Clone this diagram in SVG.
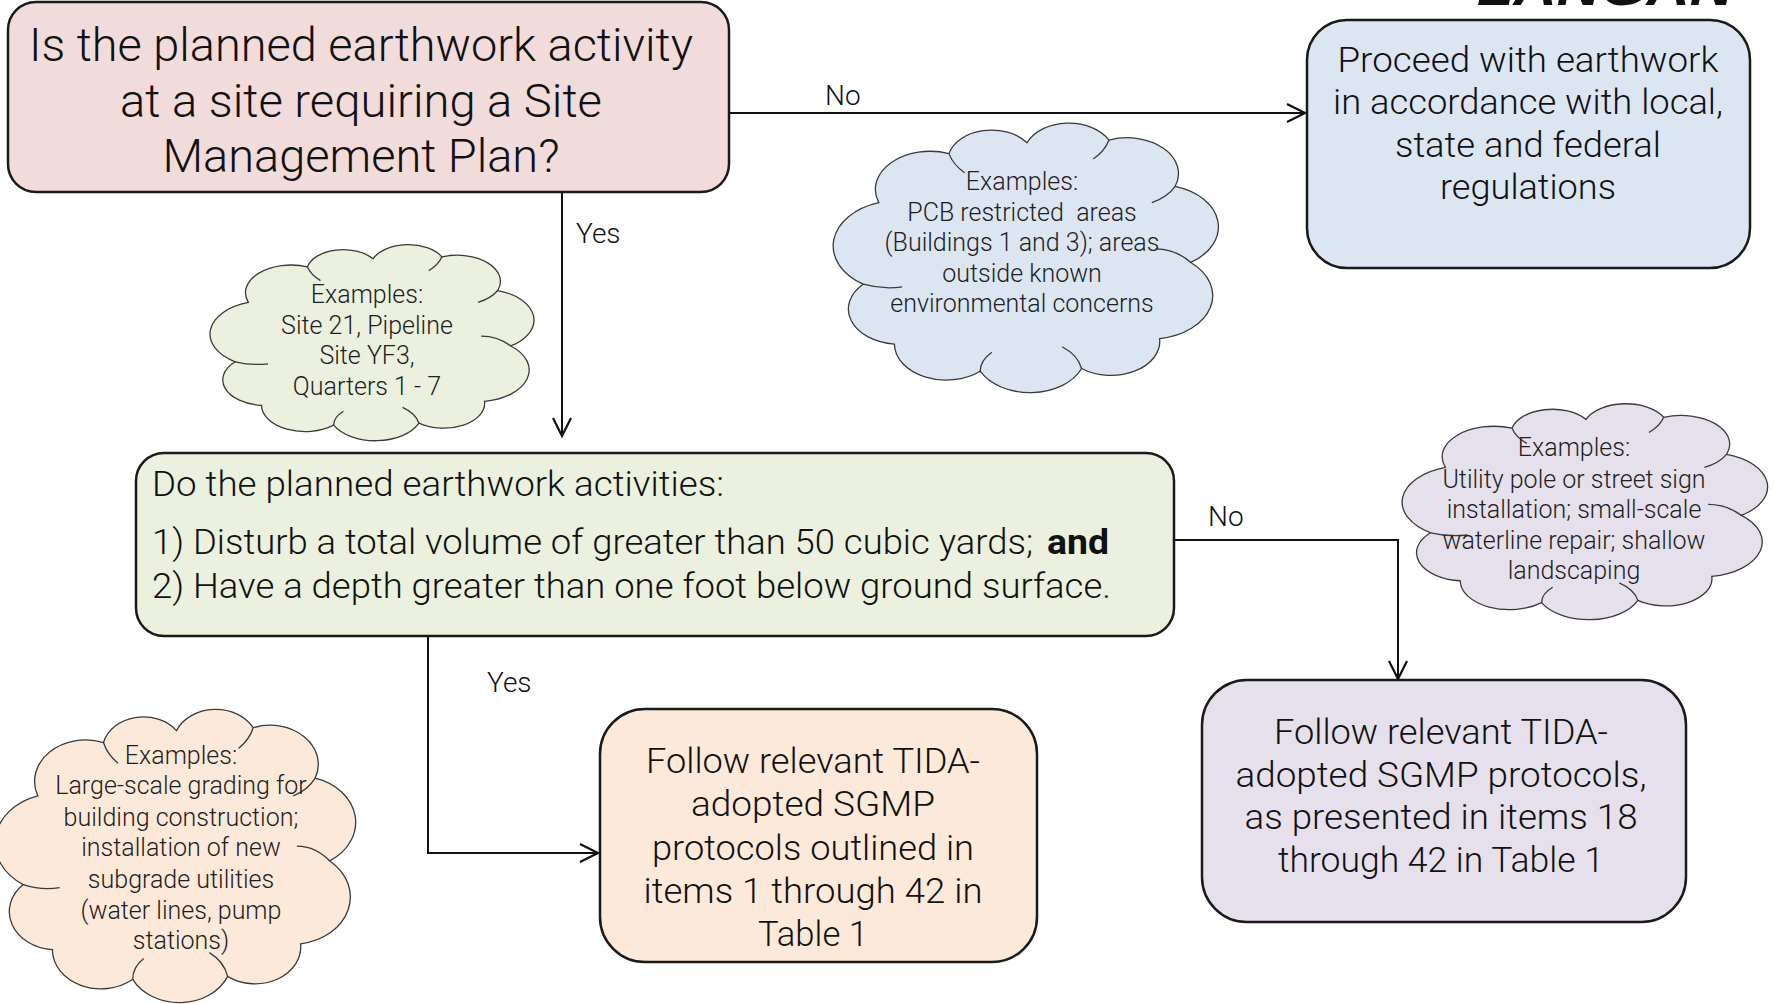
<svg xmlns="http://www.w3.org/2000/svg" xmlns:xlink="http://www.w3.org/1999/xlink" width="1774" height="1004" viewBox="0 0 1774 1004">
<style>
.box{stroke:#1a1a1a;stroke-width:2.5}
.bt{font-family:Roboto,"Liberation Sans",sans-serif;font-weight:300;fill:#111;font-size:46px}
.mt{font-family:Roboto,"Liberation Sans",sans-serif;font-weight:300;fill:#111;font-size:35px}
.bold{font-weight:700}
.ct{font-family:Roboto,"Liberation Sans",sans-serif;font-weight:300;fill:#1e1e1e;font-size:25px;text-anchor:middle}
.lbl{font-family:Roboto,"Liberation Sans",sans-serif;font-weight:300;fill:#111;font-size:28px}
.cl{stroke:#3a3a3a;stroke-width:1.3}
.conn{fill:none;stroke:#111;stroke-width:2}
</style>
<defs>
<marker id="arr" markerUnits="userSpaceOnUse" markerWidth="24" markerHeight="24" refX="18" refY="9" orient="auto" viewBox="-2 -2 24 22">
<path d="M0,0 L18,9 L0,18" fill="none" stroke="#111" stroke-width="2.2"/>
</marker>
<g id="cloud">
<path vector-effect="non-scaling-stroke" d="M 8 60 A 16.7 16.7 0 0 1 12 30 A 14 14 0 0 1 30 12 A 11.2 11.2 0 0 1 50 8 A 11.6 11.6 0 0 1 71 7 A 13.2 13.2 0 0 1 88 24 A 15.6 15.6 0 0 1 92 52 A 16 16 0 0 1 84 80 A 12.5 12.5 0 0 1 64 91 A 14.3 14.3 0 0 1 38 92 A 13.3 13.3 0 0 1 16 82 A 12.9 12.9 0 0 1 8 60 Z"/>
<path vector-effect="non-scaling-stroke" fill="none" d="M 8 60 Q 13 62 18 61 M 30 12 Q 31 16 34 19 M 71 7 Q 70 11 67 14 M 88 24 Q 86 28 82 30 M 92 52 Q 88 47 83 47 M 64 91 Q 63 86 59 83 M 38 92 Q 38 88 41 85"/>
</g>
</defs>
<rect width="1774" height="1004" fill="#fff"/>

<text x="1477" y="5" font-family="Liberation Sans,sans-serif" font-weight="bold" font-style="italic" font-size="56" textLength="256" lengthAdjust="spacingAndGlyphs" fill="#111">LANGAN</text>

<g id="connectors">
<path class="conn" d="M729,113 H1305" marker-end="url(#arr)"/>
<path class="conn" d="M562,192 V436" marker-end="url(#arr)"/>
<path class="conn" d="M1174,540 H1398 V679" marker-end="url(#arr)"/>
<path class="conn" d="M428,636 V853 H598" marker-end="url(#arr)"/>
<text class="lbl" x="825" y="105">No</text>
<text class="lbl" x="576" y="243">Yes</text>
<text class="lbl" x="1208" y="526">No</text>
<text class="lbl" x="487" y="692">Yes</text>
</g>

<g id="q1">
<rect class="box" x="8" y="2" width="721" height="190" rx="28" fill="#f2dcdb"/>
<text class="bt" x="361" y="61" text-anchor="middle" textLength="664" lengthAdjust="spacingAndGlyphs">Is the planned earthwork activity</text>
<text class="bt" x="361" y="117" text-anchor="middle" textLength="482" lengthAdjust="spacingAndGlyphs">at a site requiring a Site</text>
<text class="bt" x="361" y="172" text-anchor="middle" textLength="397" lengthAdjust="spacingAndGlyphs">Management Plan?</text>
</g>

<g id="proceed">
<rect class="box" x="1307" y="20" width="443" height="248" rx="40" fill="#dce6f2"/>
<text class="mt" x="1528" y="72" text-anchor="middle" textLength="381" lengthAdjust="spacingAndGlyphs">Proceed with earthwork</text>
<text class="mt" x="1528" y="114" text-anchor="middle" textLength="390" lengthAdjust="spacingAndGlyphs">in accordance with local,</text>
<text class="mt" x="1528" y="157" text-anchor="middle" textLength="266" lengthAdjust="spacingAndGlyphs">state and federal</text>
<text class="mt" x="1528" y="199" text-anchor="middle" textLength="176" lengthAdjust="spacingAndGlyphs">regulations</text>
</g>

<g id="cloud-blue">
<use xlink:href="#cloud" class="cl" fill="#dce6f2" transform="translate(832,121) scale(3.9,2.72)"/>
<text class="ct" x="1022" y="190">Examples:</text>
<text class="ct" x="1022" y="221" xml:space="preserve">PCB restricted  areas</text>
<text class="ct" x="1022" y="251">(Buildings 1 and 3); areas</text>
<text class="ct" x="1022" y="282">outside known</text>
<text class="ct" x="1022" y="312">environmental concerns</text>
</g>

<g id="cloud-green">
<use xlink:href="#cloud" class="cl" fill="#ebf1de" transform="translate(209,243) scale(3.28,1.98)"/>
<text class="ct" x="367" y="303">Examples:</text>
<text class="ct" x="367" y="334">Site 21, Pipeline</text>
<text class="ct" x="367" y="364">Site YF3,</text>
<text class="ct" x="367" y="395">Quarters 1 - 7</text>
</g>

<g id="q2">
<rect class="box" x="136" y="453" width="1038" height="183" rx="28" fill="#ebf1de"/>
<text class="mt" x="152" y="496" textLength="572" lengthAdjust="spacingAndGlyphs">Do the planned earthwork activities:</text>
<text class="mt" x="152" y="554" textLength="881" lengthAdjust="spacingAndGlyphs">1) Disturb a total volume of greater than 50 cubic yards;</text>
<text class="mt bold" x="1047" y="554" textLength="62" lengthAdjust="spacingAndGlyphs">and</text>
<text class="mt" x="152" y="598" textLength="959" lengthAdjust="spacingAndGlyphs">2) Have a depth greater than one foot below ground surface.</text>
</g>

<g id="cloud-purple">
<use xlink:href="#cloud" class="cl" fill="#e6e0ec" transform="translate(1401,402) scale(3.7,2.18)"/>
<text class="ct" x="1574" y="456">Examples:</text>
<text class="ct" x="1574" y="488">Utility pole or street sign</text>
<text class="ct" x="1574" y="518">installation; small-scale</text>
<text class="ct" x="1574" y="549">waterline repair; shallow</text>
<text class="ct" x="1574" y="579">landscaping</text>
</g>

<g id="sgmp-all">
<rect class="box" x="600" y="709" width="437" height="253" rx="45" fill="#fde9d9"/>
<text class="mt" x="813" y="773" text-anchor="middle" textLength="334" lengthAdjust="spacingAndGlyphs">Follow relevant TIDA-</text>
<text class="mt" x="813" y="816" text-anchor="middle" textLength="244" lengthAdjust="spacingAndGlyphs">adopted SGMP</text>
<text class="mt" x="813" y="860" text-anchor="middle" textLength="322" lengthAdjust="spacingAndGlyphs">protocols outlined in</text>
<text class="mt" x="813" y="903" text-anchor="middle" textLength="339" lengthAdjust="spacingAndGlyphs">items 1 through 42 in</text>
<text class="mt" x="813" y="946" text-anchor="middle" textLength="110" lengthAdjust="spacingAndGlyphs">Table 1</text>
</g>

<g id="sgmp-partial">
<rect class="box" x="1202" y="680" width="484" height="242" rx="45" fill="#e6e0ec"/>
<text class="mt" x="1441" y="744" text-anchor="middle" textLength="334" lengthAdjust="spacingAndGlyphs">Follow relevant TIDA-</text>
<text class="mt" x="1441" y="787" text-anchor="middle" textLength="411" lengthAdjust="spacingAndGlyphs">adopted SGMP protocols,</text>
<text class="mt" x="1441" y="829" text-anchor="middle" textLength="393" lengthAdjust="spacingAndGlyphs">as presented in items 18</text>
<text class="mt" x="1441" y="872" text-anchor="middle" textLength="326" lengthAdjust="spacingAndGlyphs">through 42 in Table 1</text>
</g>

<g id="cloud-orange">
<use xlink:href="#cloud" class="cl" fill="#fde9d9" transform="translate(-6,707) scale(3.65,2.96)"/>
<text class="ct" x="181" y="764">Examples:</text>
<text class="ct" x="181" y="794">Large-scale grading for</text>
<text class="ct" x="181" y="826">building construction;</text>
<text class="ct" x="181" y="856">installation of new</text>
<text class="ct" x="181" y="888">subgrade utilities</text>
<text class="ct" x="181" y="919">(water lines, pump</text>
<text class="ct" x="181" y="949">stations)</text>
</g>
</svg>
